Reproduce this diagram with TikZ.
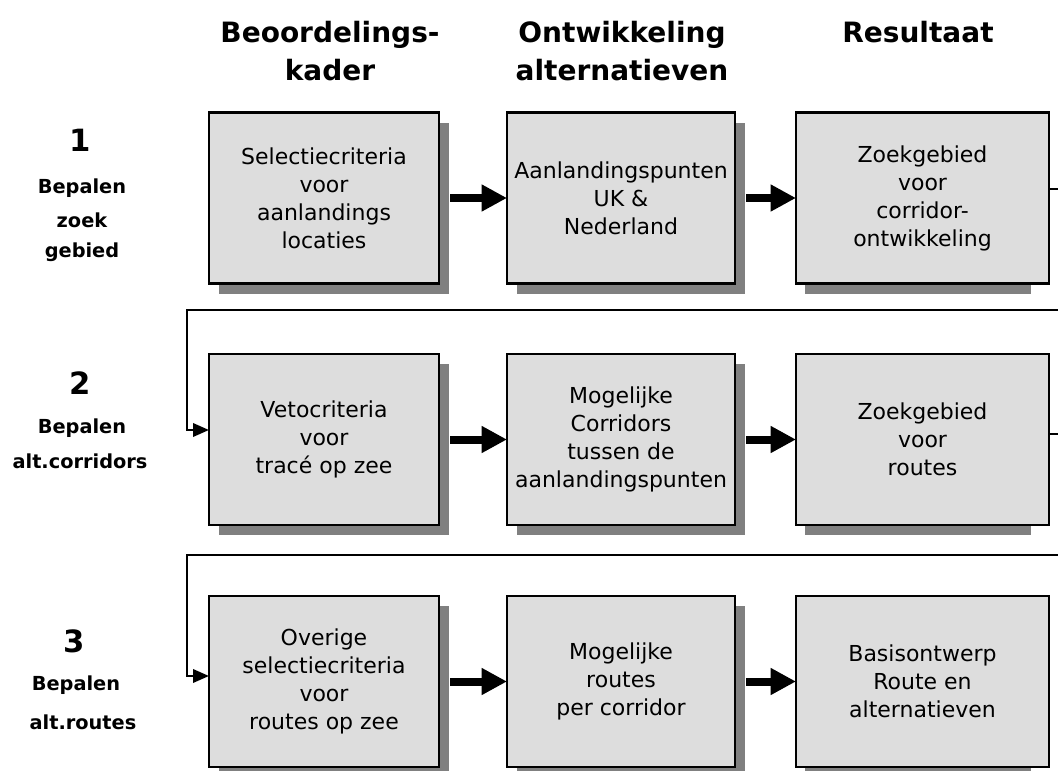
\documentclass[tikz,border=0pt]{standalone}
\usepackage{fontspec}
\setmainfont{DejaVu Sans}
\usetikzlibrary{arrows.meta,backgrounds}
\definecolor{boxfill}{HTML}{DDDDDD}
\definecolor{shadegray}{HTML}{808080}
\begin{document}
\begin{tikzpicture}[x=0.75pt,y=-0.75pt,
  stagebox/.style={draw=black,line width=1.8pt,fill=boxfill,inner sep=0pt,outer sep=0pt,
    align=center,minimum height=128.25pt,font=\fontsize{16.5}{21}\selectfont},
  colA/.style={minimum width=172.5pt},
  colB/.style={minimum width=171pt},
  colC/.style={minimum width=189.75pt},
  hdr/.style={align=center,inner sep=0pt,font=\fontsize{21}{28.5}\selectfont\bfseries},
  numlab/.style={inner sep=0pt,font=\fontsize{23}{26}\selectfont\bfseries},
  sidelab/.style={inner sep=0pt,font=\fontsize{14.5}{17}\selectfont\bfseries},
  thickarrow/.style={line width=6pt,-{Triangle[length=19pt,width=19pt]}},
  thinline/.style={line width=1.9pt,line join=miter},
  thinarrow/.style={thinline,-{Triangle[length=12pt,width=10pt]}},
  shadowfill/.style={fill=shadegray}
]
\useasboundingbox (0,0) rectangle (1058,771);

% headers
\node[hdr] (h1) at (330,51) {Beoordelings-\\kader};
\node[hdr] (h2) at (622,51) {Ontwikkeling\\alternatieven};
\node[hdr] (h3) at (918,32) {Resultaat};

% side labels
\node[numlab] (n1) at (80,140) {1};
\node[sidelab] (s1a) at (82,188) {Bepalen};
\node[sidelab] (s1b) at (82,220) {zoek};
\node[sidelab] (s1c) at (82,252) {gebied};
\node[numlab] (n2) at (80,383) {2};
\node[sidelab] (s2a) at (82,428) {Bepalen};
\node[sidelab] (s2b) at (80,461) {alt.corridors};
\node[numlab] (n3) at (74,641) {3};
\node[sidelab] (s3a) at (76,685) {Bepalen};
\node[sidelab] (s3b) at (83,722) {alt.routes};

% boxes
\node[stagebox,colA] (c11) at (324,198) {Selectiecriteria\\voor\\aanlandings\\locaties};
\node[stagebox,colB] (c12) at (621,198) {Aanlandingspunten\\UK \&\\Nederland};
\node[stagebox,colC] (c13) at (922.5,198) {Zoekgebied\\voor\\corridor-\\ontwikkeling};

\node[stagebox,colA] (c21) at (324,439.5) {Vetocriteria\\voor\\tracé op zee};
\node[stagebox,colB] (c22) at (621,439.5) {Mogelijke\\Corridors\\tussen de\\aanlandingspunten};
\node[stagebox,colC] (c23) at (922.5,439.5) {Zoekgebied\\voor\\routes};

\node[stagebox,colA] (c31) at (324,681.5) {Overige\\selectiecriteria\\voor\\routes op zee};
\node[stagebox,colB] (c32) at (621,681.5) {Mogelijke\\routes\\per corridor};
\node[stagebox,colC] (c33) at (922.5,681.5) {Basisontwerp\\Route en\\alternatieven};

% shadows
\begin{scope}[on background layer]
\foreach \n in {c11,c12,c21,c22,c31,c32}
  \fill[shadowfill] ([shift={(10,10)}]\n.north west) rectangle ([shift={(10,10)}]\n.south east);
\foreach \n in {c13,c23,c33}
  \fill[shadowfill] ([shift={(9,10)}]\n.north west) rectangle ([shift={(-18,10)}]\n.south east);
\end{scope}

% thick arrows
\foreach \a/\b in {c11/c12,c12/c13,c21/c22,c22/c23,c31/c32,c32/c33}
  \draw[thickarrow] ([xshift=8.25pt]\a.east) -- (\b.west);

% connectors
\coordinate (r1out) at (1058,189);
\draw[thinline] (c13.east |- r1out) -- (r1out);

\coordinate (l2r) at (1058,310);
\coordinate (l2l) at (187,310);
\coordinate (l2in) at (187,430);
\draw[thinarrow] (l2r) -- (l2l) -- (l2in) -- (c21.west |- l2in);

\coordinate (r2out) at (1058,434);
\draw[thinline] (c23.east |- r2out) -- (r2out);

\coordinate (l3r) at (1058,555);
\coordinate (l3l) at (187,555);
\coordinate (l3in) at (187,676);
\draw[thinarrow] (l3r) -- (l3l) -- (l3in) -- (c31.west |- l3in);
\end{tikzpicture}
\end{document}
